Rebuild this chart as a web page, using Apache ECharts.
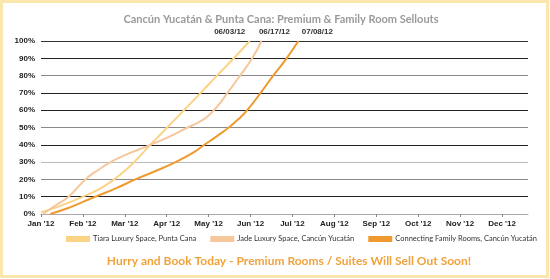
<!DOCTYPE html>
<html><head><meta charset="utf-8">
<script src="https://cdn.jsdelivr.net/npm/echarts@6/dist/echarts.min.js"></script>
<style>html,body{margin:0;padding:0;background:#fff}#c{width:550px;height:279px}</style>
</head><body><div id="c"></div>
<script>
const monthLabels = ["Jan '12","Feb '12","Mar '12","Apr '12","May '12","Jun '12","Jul '12","Aug '12","Sep '12","Oct '12","Nov '12","Dec '12"];
const seriesNames = ["Tiara Luxury Space, Punta Cana","Jade Luxury Space, Cancún Yucatán","Connecting Family Rooms, Cancún Yucatán"];
const endDates = ["06/03/12","06/17/12","07/08/12"];
// [month index (0 = Jan), percent sold]
const tiara = [[0,1],[0.5,5],[1,10],[1.5,16],[2,25],[2.3,32],[2.61,40],[3.01,50],[3.41,60],[3.81,70],[4.2,80],[4.6,90],[4.98,100]];
const jade = [[0.05,0],[0.35,5],[0.66,10],[1.06,20],[1.4,26],[1.66,30],[2.0,34],[2.3,37],[2.61,40],[3.0,44],[3.5,50],[3.8,53.5],[4.0,57],[4.2,62],[4.45,70],[4.75,80],[5.04,90],[5.26,100]];
const connecting = [[0.22,0],[0.6,3],[1.0,7],[1.3,10],[1.8,15],[2.25,20],[2.75,25],[3.21,30],[3.6,35],[3.9,40],[4.2,45],[4.48,50],[4.72,55],[4.92,60],[5.24,70],[5.54,80],[5.86,90],[6.14,100]];
const yTicks = [0,10,20,30,40,50,60,70,80,90,100];

const colors = ['#fbd385','#f7c79c','#ee9a2e'];
const labelOffsets = [[-20,0],[13,0],[19,0]];
const datasets = [tiara, jade, connecting];

function mkSeries(i){
  const d = datasets[i].map((p,k,arr)=>{
    if(k===arr.length-1){
      return {value:p,label:{show:true,position:'top',distance:5,offset:labelOffsets[i],formatter:endDates[i],
        fontFamily:'Liberation Sans',fontWeight:'bold',fontSize:8,color:'#333'}};
    }
    return p;
  });
  return {name:seriesNames[i],type:'line',smooth:0.5,showSymbol:true,showAllSymbol:true,symbol:'circle',symbolSize:0.01,data:d,
    label:{show:false},
    lineStyle:{color:colors[i],width:2},itemStyle:{color:colors[i]},z:3+i};
}

const chart = echarts.init(document.getElementById('c'),null,{renderer:'canvas'});
chart.setOption({
  animation:false,
  backgroundColor:'#fff',
  title:[
    {text:'Cancún Yucatán & Punta Cana: Premium & Family Room Sellouts',left:276,textAlign:'center',top:9,
     textStyle:{fontFamily:'Lato',fontWeight:'bold',fontSize:11,color:'#9a9a9a'}},
    {text:'Hurry and Book Today - Premium Rooms / Suites Will Sell Out Soon!',left:284,textAlign:'center',top:250,
     textStyle:{fontFamily:'Lato',fontWeight:'bold',fontSize:12,color:'#f0a23c'}}
  ],
  graphic:[{type:'rect',shape:{x:1.5,y:1.5,width:546,height:275},style:{fill:'none',stroke:'#fbe6ad',lineWidth:3},silent:true}],
  legend:{left:66,top:235,width:480,padding:0,itemWidth:24,itemHeight:6,itemGap:14,icon:'rect',
    textStyle:{fontFamily:'Lato',fontSize:7.5,color:'#333',padding:[0,0,0,-2]},data:seriesNames},
  grid:{left:41,right:22,top:41,bottom:65},
  xAxis:{type:'value',min:0,max:11.62,interval:1,
    axisLine:{show:true,lineStyle:{color:'#aaa',width:1}},
    axisTick:{show:true,length:3,lineStyle:{color:'#888'},customValues:monthLabels.map((m,i)=>i)},
    axisLabel:{customValues:monthLabels.map((m,i)=>i),formatter:v=>monthLabels[Math.round(v)]||'',
      fontFamily:'Liberation Sans',fontWeight:'bold',fontSize:8,color:'#222',margin:6},
    splitLine:{show:false}},
  yAxis:{type:'value',min:0,max:100,interval:10,
    axisLine:{show:false},axisTick:{show:false},
    axisLabel:{formatter:'{value}%',fontFamily:'Liberation Sans',fontWeight:'bold',fontSize:8,color:'#222',margin:6},
    splitLine:{show:true,lineStyle:{width:1,color:['#aaa','#222','#888','#bbb','#222','#888','#222','#222','#888','#222','#333']}}},
  series:[mkSeries(0),mkSeries(1),mkSeries(2)]
});
</script></body></html>
